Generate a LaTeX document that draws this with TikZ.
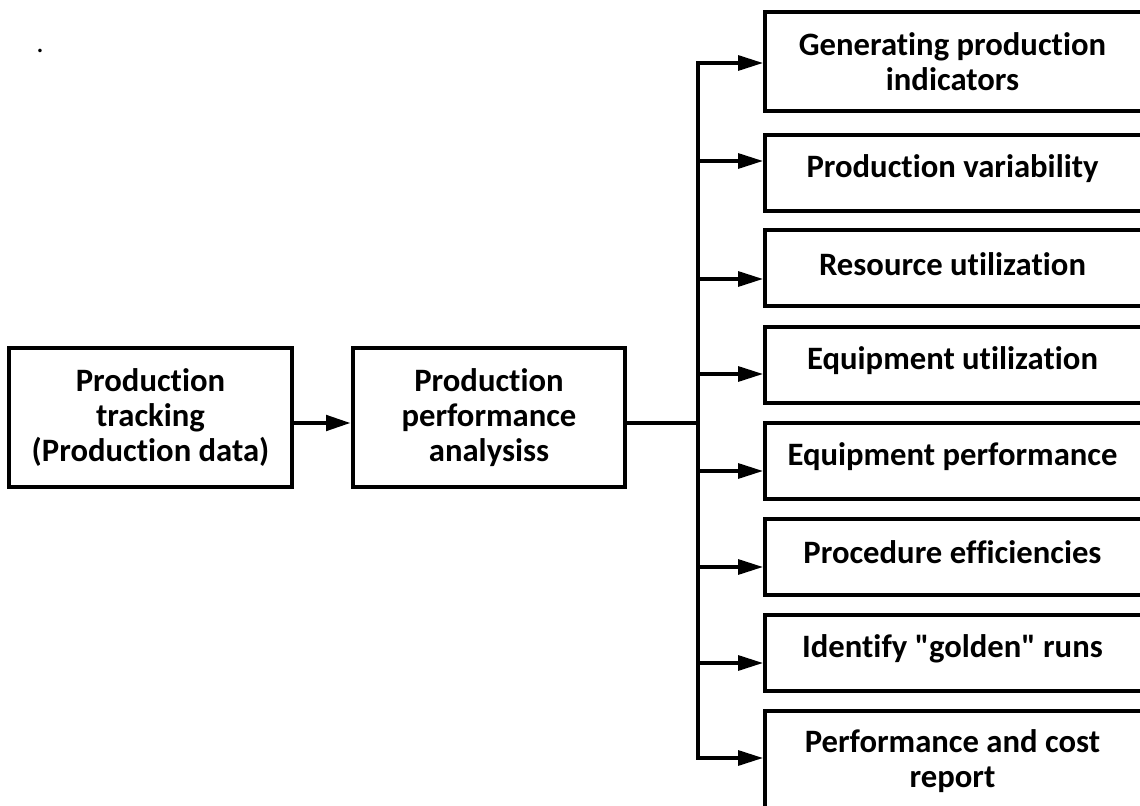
\documentclass[tikz,border=0pt]{standalone}
\usepackage{fontspec}
\setmainfont{Carlito}[Ligatures={NoCommon}]
\usetikzlibrary{arrows.meta,calc}
\begin{document}
\begin{tikzpicture}[x=0.75pt,y=-0.75pt,
  txt/.style={inner sep=0pt,align=center,
    font=\fontsize{24.5}{26.4}\selectfont\bfseries},
  box/.style={txt,draw,line width=3pt},
  leftbox/.style={box,minimum width=212.25pt,minimum height=104.25pt},
  rightbox/.style={draw,line width=3pt,inner sep=0pt,minimum width=296.25pt,minimum height=57pt},
  tip/.style={-{Triangle[length=18.75pt,width=11.25pt]}},
  branch/.style={tip,line width=2.4pt},
]
\useasboundingbox (0,0) rectangle (1140,806);
\clip (0,0) rectangle (1140,806);

% stray full stop in the upper left corner
\node[anchor=base,inner sep=0pt,font=\fontsize{22}{22}\selectfont] (stop) at (40,53) {.};

% source and analysis blocks
\node[leftbox] (src) at (150.5,417.5) {Production\\tracking\\(Production data)};
\node[leftbox,minimum width=204pt] (ana) at (489,417.5) {Production\\performance\\analysiss};

% result frames (their right edges run past the page)
\node[rightbox,minimum height=74.25pt] (r1) at (962.5,61.5) {};
\node[rightbox] (r2) at (962.5,173) {};
\node[rightbox] (r3) at (962.5,268.5) {};
\node[rightbox] (r4) at (962.5,365) {};
\node[rightbox] (r5) at (962.5,461) {};
\node[rightbox] (r6) at (962.5,556.5) {};
\node[rightbox] (r7) at (962.5,652.5) {};
\node[rightbox,minimum height=75.75pt] (r8) at (962.5,761.5) {};

% their captions, centred on the visible part of each frame
\node[txt] (l1) at ($(r1.center)+(-10,0)$) {Generating production\\indicators};
\node[txt] (l2) at ($(r2.center)+(-10,-4)$) {Production variability};
\node[txt] (l3) at ($(r3.center)+(-10,-4)$) {Resource utilization};
\node[txt] (l4) at ($(r4.center)+(-10,-4)$) {Equipment utilization};
\node[txt] (l5) at ($(r5.center)+(-10,-4)$) {Equipment performance};
\node[txt] (l6) at ($(r6.center)+(-10,-4)$) {Procedure efficiencies};
\node[txt] (l7) at ($(r7.center)+(-10,-4)$) {Identify \textquotedbl golden\textquotedbl{} runs};
\node[txt] (l8) at ($(r8.center)+(-10,0)$) {Performance and cost\\report};

% distribution trunk
\coordinate (ja) at (320,423);
\coordinate (jt) at (698,423);
\coordinate (t1) at (698,63);
\coordinate (t2) at (698,161);
\coordinate (t3) at (698,279);
\coordinate (t4) at (698,374);
\coordinate (t5) at (698,471);
\coordinate (t6) at (698,567);
\coordinate (t7) at (698,663);
\coordinate (t8) at (698,758);

\draw[tip,line width=3.6pt] (src.east |- ja) -- (ana.west |- ja);
\draw[line width=3pt] (ana.east |- jt) -- (jt);
\draw[line width=2.6pt,line cap=rect] (t1) -- (t8);

\draw[branch] (t1) -- (r1.west |- t1);
\draw[branch] (t2) -- (r2.west |- t2);
\draw[branch] (t3) -- (r3.west |- t3);
\draw[branch] (t4) -- (r4.west |- t4);
\draw[branch] (t5) -- (r5.west |- t5);
\draw[branch] (t6) -- (r6.west |- t6);
\draw[branch] (t7) -- (r7.west |- t7);
\draw[branch] (t8) -- (r8.west |- t8);
\end{tikzpicture}
\end{document}
